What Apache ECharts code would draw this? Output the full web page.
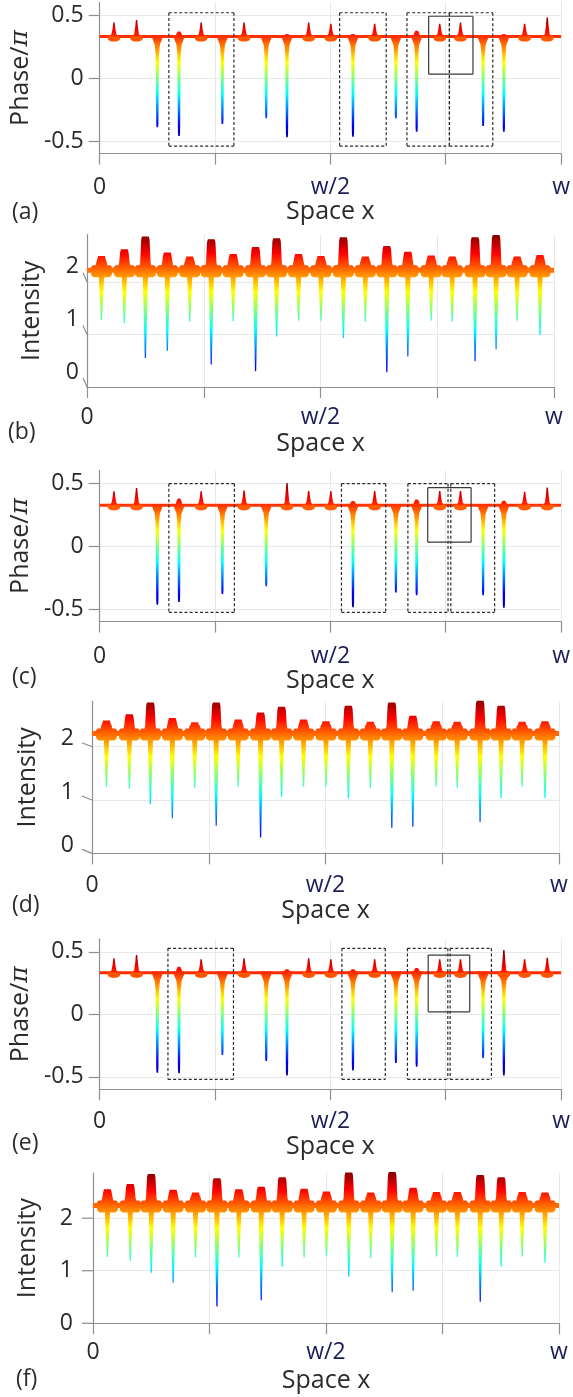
<!DOCTYPE html>
<html><head><meta charset="utf-8">
<script src="https://cdn.jsdelivr.net/npm/echarts@6/dist/echarts.min.js"></script>
<style>html,body{margin:0;padding:0;background:#fff}#c{width:573px;height:1397px}</style>
</head><body><div id="c"></div>
<script>
// ---------------- data ----------------
const spikePos = [0.031,0.080,0.125,0.172,0.220,0.266,0.313,0.361,0.406,0.453,0.501,0.549,0.596,0.642,0.687,0.737,0.782,0.831,0.876,0.921,0.970];
const xTickValues = [0, 0.25, 0.5, 0.75, 1];
const xTickLabels = ['0', '', 'w/2', '', 'w'];
const phaseTicks = [-0.5, 0, 0.5];
const intensityTicks = [0, 1, 2];

// (a) phase
const phaseA_base = 0.33;
const phaseA_up   = [0.44,0.46,null,null,0.44,null,0.44,null,null,0.44,0.43,null,0.43,null,null,0.43,0.44,null,null,0.43,0.48];
const phaseA_down = [null,null,-0.39,-0.46,null,-0.365,null,-0.32,-0.47,null,null,-0.466,null,-0.32,-0.426,null,null,-0.38,-0.426,null,null];
const phaseA_bump = [null,null,null,0.37,null,null,null,null,0.35,null,null,0.35,null,null,0.375,null,null,null,0.35,null,null];
const boxesA_dashed = [[0.150,0.291,-0.54,0.518],[0.520,0.621,-0.54,0.518],[0.666,0.758,-0.54,0.518],[0.758,0.852,-0.54,0.518]];
const boxesA_solid = [[0.713,0.809,0.03,0.49]];

// (b) intensity
const intB_base = 2.22;
const intB_top = [2.49,2.62,2.86,2.56,2.48,2.81,2.53,2.66,2.83,2.53,2.49,2.85,2.48,2.68,2.57,2.50,2.48,2.85,2.89,2.48,2.51];
const intB_tip = [1.27,1.21,0.55,0.69,1.24,0.43,1.25,0.30,0.96,1.26,1.26,0.93,1.24,0.28,0.58,1.26,1.24,0.49,0.72,1.26,0.99];

// (c) phase
const phaseC_base = 0.324;
const phaseC_up   = [0.434,0.46,null,null,0.434,null,0.44,null,0.50,0.437,0.434,null,0.437,null,null,0.437,0.437,null,null,0.43,0.464];
const phaseC_down = [null,null,-0.466,-0.445,null,-0.38,null,-0.32,null,null,null,-0.487,null,-0.369,-0.39,null,null,-0.39,-0.49,null,null];
const phaseC_bump = [null,null,null,0.377,null,null,null,null,null,null,null,0.358,null,null,0.37,null,null,null,0.36,null,null];
const boxesC_dashed = [[0.150,0.292,-0.527,0.495],[0.524,0.620,-0.527,0.495],[0.668,0.755,-0.527,0.495],[0.761,0.856,-0.527,0.495]];
const boxesC_solid = [[0.711,0.805,0.03,0.463]];

// (d) intensity
const intD_base = 2.25;
const intD_top = [2.49,2.61,2.83,2.54,2.46,2.83,2.51,2.64,2.75,2.51,2.48,2.77,2.47,2.83,2.58,2.48,2.47,2.86,2.77,2.47,2.48];
const intD_tip = [1.25,1.21,0.92,0.66,1.23,0.52,1.25,0.30,1.06,1.25,1.25,1.03,1.22,0.48,0.50,1.25,1.23,0.59,1.04,1.25,1.04];

// (e) phase
const phaseE_base = 0.333;
const phaseE_up   = [0.448,0.474,null,null,0.44,null,0.448,null,null,0.448,0.44,null,0.44,null,null,0.44,0.44,null,0.514,0.44,0.453];
const phaseE_down = [null,null,-0.467,-0.472,null,-0.326,null,-0.374,-0.49,null,null,-0.45,null,-0.39,-0.42,null,null,-0.35,-0.49,null,null];
const phaseE_bump = [null,null,null,0.38,null,null,null,null,0.36,null,null,0.36,null,null,0.37,null,null,null,null,null,null];
const boxesE_dashed = [[0.148,0.290,-0.52,0.528],[0.525,0.619,-0.52,0.528],[0.667,0.7545,-0.52,0.528],[0.7595,0.849,-0.52,0.528]];
const boxesE_solid = [[0.712,0.802,0.02,0.474]];

// (f) intensity
const intF_base = 2.24;
const intF_top = [2.55,2.65,2.84,2.54,2.49,2.76,2.55,2.60,2.78,2.56,2.51,2.87,2.49,2.88,2.58,2.50,2.50,2.82,2.78,2.50,2.49];
const intF_tip = [1.26,1.19,0.96,0.77,1.25,0.32,1.25,0.44,1.07,1.25,1.27,0.89,1.24,0.59,0.62,1.27,1.26,0.41,1.08,1.27,1.15];

// ---------------- style / helpers ----------------
const FONT = "'Open Sans', 'Noto Sans', sans-serif";
const TXT = '#2b2b2b', NAVY = '#1d1d5a', AX = '#8f8f8f', GRID = '#e8e8e8';
const PH_LO = -0.5, PH_HI = 0.5, IN_LO = 0, IN_HI = 2.9;

function jet(t){
  t = Math.max(0, Math.min(1, t));
  const c = v => Math.round(255 * Math.max(0, Math.min(1, v)));
  return 'rgb(' + c(1.5 - Math.abs(4*t - 3)) + ',' + c(1.5 - Math.abs(4*t - 2)) + ',' + c(1.5 - Math.abs(4*t - 1)) + ')';
}
const STOPS = [];
for (let k = 0; k <= 32; k++) STOPS.push({offset: k/32, color: jet(1 - k/32)});
function cmap(api, lo, hi){
  const y0 = api.coord([0, hi])[1], y1 = api.coord([0, lo])[1];
  return new echarts.graphic.LinearGradient(0, y0, 0, y1, STOPS, true);
}
function pairs(vals){ return spikePos.map((p, i) => [p, vals[i]]).filter(d => d[1] != null); }
function poly(points, fill){ return {type: 'polygon', shape: {points}, style: {fill}}; }

function boxSeries(gi, boxes, dashed){
  return {type: 'custom', xAxisIndex: gi, yAxisIndex: gi, z: 6, silent: true, data: boxes,
    renderItem: (p, api) => {
      const a = api.coord([api.value(0), api.value(3)]), b = api.coord([api.value(1), api.value(2)]);
      const st = {stroke: dashed ? '#2a2a2a' : '#3a3a3a', lineWidth: 1.2, lineDash: dashed ? [3, 2.2] : null};
      const L = (x1, y1, x2, y2) => ({type: 'line', shape: {x1, y1, x2, y2}, style: st});
      return {type: 'group', children: [
        L(a[0], a[1], b[0], a[1]), L(a[0], b[1], b[0], b[1]),
        L(a[0], a[1], a[0], b[1]), L(b[0], a[1], b[0], b[1])
      ]};
    }};
}

function phaseSeries(gi, base, up, down, bump, dBoxes, sBoxes){
  const ax = {xAxisIndex: gi, yAxisIndex: gi, silent: true};
  return [
    Object.assign({type: 'line', data: [[0, base], [1, base]], symbol: 'none', z: 2,
      lineStyle: {color: jet((base - PH_LO)/(PH_HI - PH_LO)), width: 3}}, ax),
    Object.assign({type: 'custom', z: 3, data: pairs(down), renderItem: (p, api) => {
      const x = api.value(0), v = api.value(1);
      const [cx, yt] = api.coord([x, v]); const yb = api.coord([x, base])[1];
      const pts = [[cx-5.5, yb-1.2],[cx+5.5, yb-1.2],[cx+4.8, yb+2.5],[cx+2.6, yb+8],[cx+1.7, yb+18],[cx+1.1, yt-4],[cx+0.8, yt],
                   [cx-0.8, yt],[cx-1.1, yt-4],[cx-1.7, yb+18],[cx-2.6, yb+8],[cx-4.8, yb+2.5]];
      return poly(pts, cmap(api, PH_LO, PH_HI));
    }}, ax),
    Object.assign({type: 'custom', z: 4, data: pairs(bump), renderItem: (p, api) => {
      const x = api.value(0), v = api.value(1);
      const [cx, yp] = api.coord([x, v]); const yb = api.coord([x, base])[1]; const h = yb - yp;
      const pts = [[cx-3.5, yb+0.5],[cx-2.6, yb-h*0.55],[cx-1.2, yp],[cx+1.2, yp],[cx+2.6, yb-h*0.55],[cx+3.5, yb+0.5]];
      return poly(pts, cmap(api, PH_LO, PH_HI));
    }}, ax),
    Object.assign({type: 'custom', z: 4, data: pairs(up), renderItem: (p, api) => {
      const x = api.value(0), v = api.value(1);
      const [cx, yp] = api.coord([x, v]); const yb = api.coord([x, base])[1]; const h = yb - yp;
      const pts = [[cx-0.7, yp],[cx+0.7, yp],[cx+1.4, yp+h*0.45],[cx+2.3, yb-3],[cx+4, yb],[cx-4, yb],[cx-2.3, yb-3],[cx-1.4, yp+h*0.45]];
      return {type: 'group', children: [
        {type: 'ellipse', shape: {cx: cx, cy: yb+1.8, rx: 6.3, ry: 3.4}, style: {fill: jet((base - 0.04 - PH_LO)/(PH_HI - PH_LO))}},
        poly(pts, cmap(api, PH_LO, PH_HI))
      ]};
    }}, ax),
    boxSeries(gi, dBoxes, true),
    boxSeries(gi, sBoxes, false)
  ];
}

function intensitySeries(gi, base, tops, tips, tickDx, tickDy){
  const ax = {xAxisIndex: gi, yAxisIndex: gi, silent: true};
  return [
    Object.assign({type: 'line', data: [[0, base], [1, base]], symbol: 'none', z: 2,
      lineStyle: {color: jet((base - IN_LO)/(IN_HI - IN_LO)), width: 5}}, ax),
    Object.assign({type: 'custom', z: 3, data: spikePos.map((p, i) => [p, tops[i], tips[i]]), renderItem: (p, api) => {
      const x = api.value(0), T = api.value(1), D = api.value(2);
      const [cx, yb] = api.coord([x, base]);
      const yT = api.coord([x, T])[1], yD = api.coord([x, D])[1];
      const fill = cmap(api, IN_LO, IN_HI);
      const down = [[cx-2.6, yb+6],[cx+2.6, yb+6],[cx+0.6, yD],[cx-0.6, yD]];
      const trap = [[cx-6.3, yb-3],[cx-5.2, yb-8],[cx-4.2, yT+3],[cx-3.4, yT],[cx+3.4, yT],[cx+4.2, yT+3],[cx+5.2, yb-8],[cx+6.3, yb-3]];
      const sh = [[cx-11, yb+1],[cx-10.5, yb-3],[cx-9, yb-5],[cx+9, yb-5],[cx+10.5, yb-3],[cx+11, yb+1],[cx+10, yb+5],[cx+8, yb+7],[cx-8, yb+7],[cx-10, yb+5]];
      return {type: 'group', children: [poly(down, fill), poly(sh, fill), poly(trap, fill)]};
    }}, ax),
    Object.assign({type: 'custom', z: 5, data: intensityTicks.map(v => [0, v]), renderItem: (p, api) => {
      const [px, py] = api.coord([api.value(0), api.value(1)]);
      return {type: 'line', shape: {x1: px + tickDx, y1: py + tickDy, x2: px, y2: py}, style: {stroke: AX, lineWidth: 1.2}};
    }}, ax)
  ];
}

// ---------------- layout ----------------
const panels = [
  {kind: 'phase', tag: '(a)', grid: {left: 98, top: 2.4, width: 467, height: 151.2}, yMax: 0.6, xLabelMargin: 22, xNameGap: 45, yNameGap: 65, tagLeft: 12, tagTop: 200},
  {kind: 'int',   tag: '(b)', grid: {left: 87, top: 234.5, width: 467, height: 152.5}, yMax: 2.9, xLabelMargin: 19, xNameGap: 44, yNameGap: 43, tagLeft: 8, tagTop: 420, labelMargin: 8, labelLift: 15, tdx: -4, tdy: -9},
  {kind: 'phase', tag: '(c)', grid: {left: 98, top: 470.4, width: 466, height: 151.2}, yMax: 0.6, xLabelMargin: 23, xNameGap: 43, yNameGap: 65, tagLeft: 12, tagTop: 665},
  {kind: 'int',   tag: '(d)', grid: {left: 92, top: 701.4, width: 467, height: 152}, yMax: 2.85, xLabelMargin: 21, xNameGap: 40, yNameGap: 52, tagLeft: 12, tagTop: 893, labelMargin: 18, labelLift: 8, tdx: -10, tdy: -4},
  {kind: 'phase', tag: '(e)', grid: {left: 99, top: 939.3, width: 465, height: 150}, yMax: 0.6, xLabelMargin: 21, xNameGap: 40, yNameGap: 66, tagLeft: 12, tagTop: 1131},
  {kind: 'int',   tag: '(f)', grid: {left: 93, top: 1173, width: 466, height: 150.3}, yMax: 2.86, xLabelMargin: 18, xNameGap: 45, yNameGap: 53, tagLeft: 16, tagTop: 1367, labelMargin: 20, labelLift: 0, tdx: -11, tdy: 0}
];
const phaseData = [
  [phaseA_base, phaseA_up, phaseA_down, phaseA_bump, boxesA_dashed, boxesA_solid],
  [phaseC_base, phaseC_up, phaseC_down, phaseC_bump, boxesC_dashed, boxesC_solid],
  [phaseE_base, phaseE_up, phaseE_down, phaseE_bump, boxesE_dashed, boxesE_solid]
];
const intData = [[intB_base, intB_top, intB_tip], [intD_base, intD_top, intD_tip], [intF_base, intF_top, intF_tip]];

const grids = [], xAxes = [], yAxes = [], titles = [];
let series = [];
let pi = 0, ii = 0;
panels.forEach((p, gi) => {
  grids.push(Object.assign({containLabel: false}, p.grid));
  titles.push({text: p.tag, left: p.tagLeft, top: p.tagTop, padding: 0,
    textStyle: {fontSize: 23, fontWeight: 'normal', color: TXT, fontFamily: FONT, lineHeight: 24}});
  xAxes.push({
    gridIndex: gi, type: 'value', min: 0, max: 1,
    axisLine: {show: true, onZero: false, lineStyle: {color: AX, width: 1.2}},
    axisTick: {show: true, length: 11, customValues: xTickValues, lineStyle: {color: AX, width: 1.2}},
    splitLine: {show: true, lineStyle: {color: GRID, width: 1}},
    axisLabel: {customValues: xTickValues.filter((v, i) => xTickLabels[i] !== ''), margin: p.xLabelMargin,
      formatter: v => { const l = xTickLabels[xTickValues.indexOf(v)]; return l === '0' ? '{k|0}' : '{w|' + l + '}'; },
      rich: {k: {fontSize: 23, color: TXT, fontFamily: FONT}, w: {fontSize: 23, color: NAVY, fontFamily: FONT}}},
    name: 'Space x', nameLocation: 'middle', nameGap: p.xNameGap,
    nameTextStyle: {fontSize: 25, color: TXT, fontFamily: FONT}
  });
  if (p.kind === 'phase') {
    yAxes.push({
      gridIndex: gi, type: 'value', min: -0.6, max: 0.6,
      axisLine: {show: true, lineStyle: {color: AX, width: 1.2}},
      axisTick: {show: true, length: 11, customValues: phaseTicks, lineStyle: {color: AX, width: 1.2}},
      splitLine: {show: true, lineStyle: {color: GRID, width: 1}},
      axisLabel: {customValues: phaseTicks, margin: 16, fontSize: 23, color: TXT, fontFamily: FONT},
      name: 'Phase/{i|π}', nameLocation: 'middle', nameGap: p.yNameGap,
      nameTextStyle: {fontSize: 25, color: TXT, fontFamily: FONT,
        rich: {i: {fontSize: 25, fontStyle: 'italic', fontFamily: "'DejaVu Serif', serif", color: TXT}}}
    });
    const d = phaseData[pi++];
    series = series.concat(phaseSeries(gi, d[0], d[1], d[2], d[3], d[4], d[5]));
  } else {
    yAxes.push({
      gridIndex: gi, type: 'value', min: 0, max: p.yMax,
      axisLine: {show: true, lineStyle: {color: AX, width: 1.2}},
      axisTick: {show: false, customValues: intensityTicks},
      splitLine: {show: true, lineStyle: {color: GRID, width: 1}},
      axisLabel: {customValues: intensityTicks, margin: p.labelMargin, fontSize: 23, color: TXT, fontFamily: FONT,
        verticalAlign: p.labelLift > 0 ? 'bottom' : 'middle', lineHeight: p.labelLift > 0 ? 2 * p.labelLift : 24},
      name: 'Intensity', nameLocation: 'middle', nameGap: p.yNameGap,
      nameTextStyle: {fontSize: 25, color: TXT, fontFamily: FONT}
    });
    const d = intData[ii++];
    series = series.concat(intensitySeries(gi, d[0], d[1], d[2], p.tdx, p.tdy));
  }
});

const chart = echarts.init(document.getElementById('c'), null, {renderer: 'canvas'});
chart.setOption({animation: false, backgroundColor: '#fff', title: titles, grid: grids, xAxis: xAxes, yAxis: yAxes, series});
</script></body></html>
